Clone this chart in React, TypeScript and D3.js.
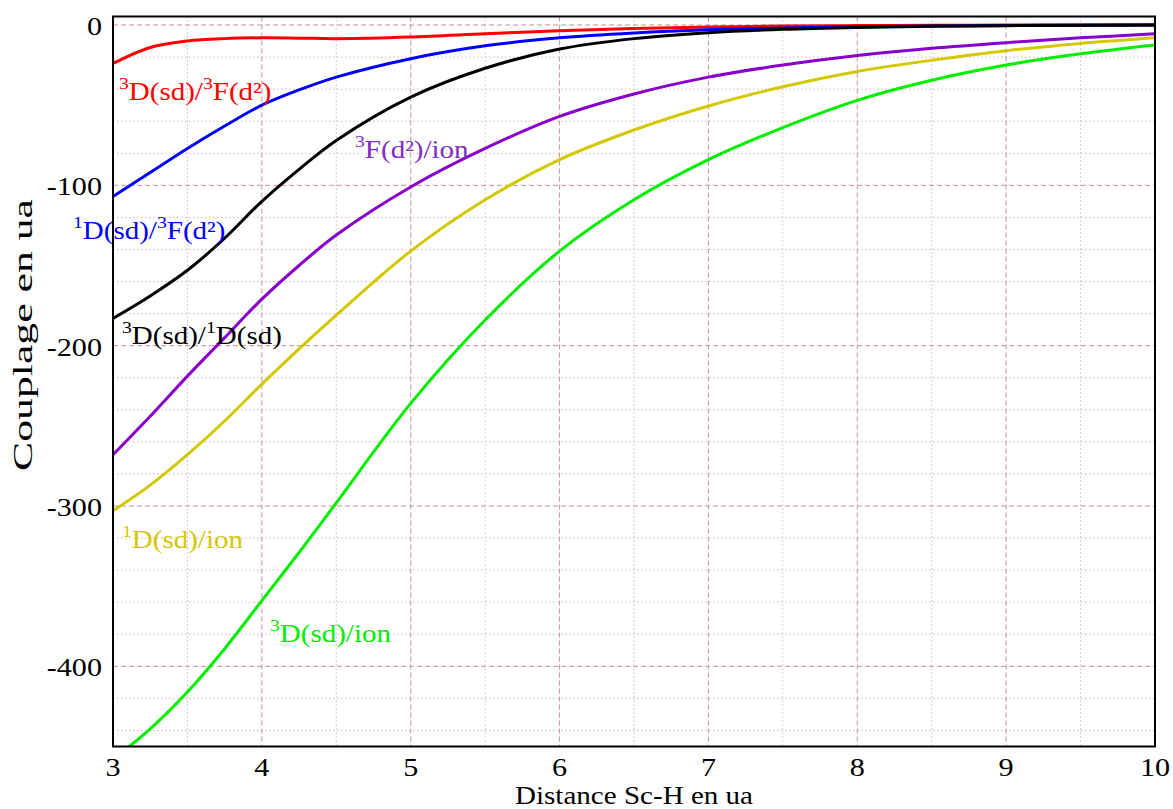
import React from "react";
import * as d3 from "d3";

const xs = [3, 3.25, 3.5, 3.75, 4, 4.25, 4.5, 5, 5.5, 6, 6.5, 7, 7.5, 8, 8.5, 9, 9.5, 10];

const red = [-24, -14, -10, -8.5, -8, -8.2, -8.5, -7.5, -5.5, -3.6, -2.2, -1.3, -0.7, -0.35, -0.15, -0.05, 0, 0];
const blue = [-107, -92, -77, -63, -50, -40.5, -32.5, -21, -13, -8, -5, -3, -1.8, -1.1, -0.6, -0.3, -0.1, 0];
const black = [-183, -169, -153, -133, -110, -90, -72, -45, -27, -15, -8.5, -4.8, -2.7, -1.5, -0.8, -0.4, -0.2, 0];
const purple = [-268, -244, -219, -195, -171, -150, -131, -101, -77, -57, -43, -32.5, -25, -19, -14.5, -11, -8, -5.5];
const yellow = [-303, -287, -268, -247, -224, -202, -181, -141, -109, -84, -65.5, -50.5, -38.5, -29, -22, -16, -11.5, -8];
const green = [-458, -439, -416, -389, -359, -329, -298, -236, -184, -141, -109, -84, -64, -47, -34.5, -25, -18, -12.5];

const xTicks = [3, 4, 5, 6, 7, 8, 9, 10];
const yTicks = [0, -100, -200, -300, -400];

const series = [
  { name: "red", values: red, color: "#ff0000" },
  { name: "blue", values: blue, color: "#0000ff" },
  { name: "black", values: black, color: "#000000" },
  { name: "purple", values: purple, color: "#8800cc" },
  { name: "yellow", values: yellow, color: "#d4c800" },
  { name: "green", values: green, color: "#00ee00" },
];

const labels = [
  { sup1: "3", a: "D(sd)/", sup2: "3", b: "F(d²)", x: 119, y: 100, color: "#ff0000" },
  { sup1: "1", a: "D(sd)/", sup2: "3", b: "F(d²)", x: 73, y: 239, color: "#0000ff" },
  { sup1: "3", a: "D(sd)/", sup2: "1", b: "D(sd)", x: 122, y: 344, color: "#000000" },
  { sup1: "3", a: "F(d²)/ion", sup2: "", b: "", x: 355, y: 158, color: "#7f2fc4" },
  { sup1: "1", a: "D(sd)/ion", sup2: "", b: "", x: 122, y: 548, color: "#d4c800" },
  { sup1: "3", a: "D(sd)/ion", sup2: "", b: "", x: 270, y: 642, color: "#00ee00" },
];

export default function App() {
  const W = 1173, H = 809;
  const left = 113, right = 1155, top = 16.5, bottom = 746.5;
  const x = d3.scaleLinear().domain([3, 10]).range([left, right]);
  const y = d3.scaleLinear().domain([-450, 5.3]).range([bottom, top]);
  const minorX = d3.range(3.5, 10, 1);
  const minorY = d3.range(-440, 5, 20).filter((v) => v % 100 !== 0);
  const line = d3
    .line<number>()
    .x((_, i) => x(xs[i]))
    .y((d) => y(d))
    .curve(d3.curveCatmullRom.alpha(0.5));
  const font = "'Liberation Serif', 'Times New Roman', serif";
  const sx = 1.16;

  return (
    <svg width={W} height={H} style={{ position: "absolute", left: 0, top: 0, background: "#fff" }} fontFamily={font}>
      <defs>
        <clipPath id="plot">
          <rect x={left} y={top} width={right - left} height={bottom - top} />
        </clipPath>
      </defs>
      {minorX.map((v) => (
        <line key={"mx" + v} x1={x(v)} x2={x(v)} y1={top} y2={bottom} stroke="#d8b4b4" strokeWidth={1} strokeDasharray="1.5,2.5" />
      ))}
      {minorY.map((v) => (
        <line key={"my" + v} x1={left} x2={right} y1={y(v)} y2={y(v)} stroke="#d8b4b4" strokeWidth={1} strokeDasharray="1.5,2.5" />
      ))}
      {xTicks.slice(1, -1).map((v) => (
        <line key={"gx" + v} x1={x(v)} x2={x(v)} y1={top} y2={bottom} stroke="#c49494" strokeWidth={1} strokeDasharray="5,3" />
      ))}
      {yTicks.map((v) => (
        <line key={"gy" + v} x1={left} x2={right} y1={y(v)} y2={y(v)} stroke="#c49494" strokeWidth={1} strokeDasharray="5,3" />
      ))}
      <g clipPath="url(#plot)">
        {series.map((s) => (
          <path key={s.name} d={line(s.values) || ""} fill="none" stroke={s.color} strokeWidth={3} />
        ))}
      </g>
      <rect x={left} y={top} width={right - left} height={bottom - top} fill="none" stroke="#000" strokeWidth={2} />
      {xTicks.map((v) => (
        <g key={"tx" + v} transform={`translate(${x(v)}, 776) scale(${sx},1)`}>
          <text textAnchor="middle" fontSize={26}>
            {v}
          </text>
        </g>
      ))}
      {yTicks.map((v) => (
        <g key={"ty" + v} transform={`translate(102, ${y(v) + 10}) scale(${sx},1)`}>
          <text textAnchor="end" fontSize={26}>
            {v}
          </text>
        </g>
      ))}
      <text x={634} y={804} textAnchor="middle" fontSize={25} textLength={238} lengthAdjust="spacingAndGlyphs">
        Distance Sc-H en ua
      </text>
      <text
        transform={`translate(32, 335) rotate(-90)`}
        textAnchor="middle"
        fontSize={27}
        textLength={272}
        lengthAdjust="spacingAndGlyphs"
      >
        Couplage en ua
      </text>
      {labels.map((l, i) => (
        <g key={"lb" + i} transform={`translate(${l.x}, ${l.y}) scale(${sx},1)`}>
          <text x={0} y={0} fill={l.color} fontSize={25}>
            <tspan fontSize={17} dy={-11}>{l.sup1}</tspan>
            <tspan dy={11}>{l.a}</tspan>
            {l.sup2 ? <tspan fontSize={17} dy={-11}>{l.sup2}</tspan> : null}
            {l.b ? <tspan dy={11}>{l.b}</tspan> : null}
          </text>
        </g>
      ))}
    </svg>
  );
}
